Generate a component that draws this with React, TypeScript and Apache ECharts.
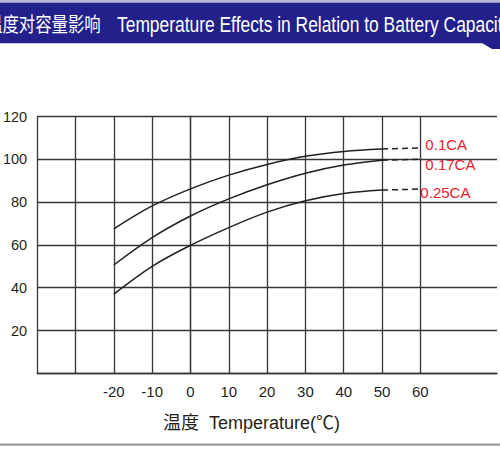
import React, { useEffect, useRef } from "react";
import * as echarts from "echarts";

// Temperature (°C) sample points of the solid curves
const temps = [-20, -10, 0, 10, 20, 30, 40, 50];
// Capacity (%) for each discharge rate
const cap01 = [67.5, 78.2, 86.2, 92.6, 97.6, 101.4, 103.7, 104.8];
const cap017 = [50.6, 63.4, 73.5, 81.5, 88.1, 93.5, 97.3, 99.6];
const cap025 = [37, 50, 59.8, 68.1, 75.3, 80.6, 84, 85.6];
// Dashed extensions 50 -> 60 °C
const extTemps = [50, 60];
const ext01 = [104.8, 105.3];
const ext017 = [99.6, 100];
const ext025 = [85.6, 86.1];
const rateNames = ["0.1CA", "0.17CA", "0.25CA"];
const xLabelValues = [-20, -10, 0, 10, 20, 30, 40, 50, 60];
const yLabelValues = [20, 40, 60, 80, 100, 120];

const titleCn = "温度对容量影响";
const titleEn = "Temperature Effects in Relation to Battery Capacity";
const axisName = "温度  Temperature(℃)";

const FONT = '"Liberation Sans", Arial, "Noto Sans CJK SC", sans-serif';
const INK = "#231f20";
const GRID = "#3b3435";
const RED = "#e8202a";
const BLUE = "#22208a";

const zip = (xs: number[], ys: number[]) => xs.map((x, i) => [x, ys[i]]);

export default function App() {
  const ref = useRef<HTMLDivElement>(null);
  useEffect(() => {
    if (!ref.current) return;
    const chart = echarts.init(ref.current, null, { renderer: "svg" });

    const solid = (data: number[]) => ({
      type: "line",
      data: zip(temps, data),
      smooth: 0.35,
      showSymbol: false,
      symbol: "none",
      silent: true,
      lineStyle: { color: INK, width: 1.5 },
    });
    const dashed = (data: number[], name: string, distance: number, dy: number) => ({
      type: "line",
      data: zip(extTemps, data),
      showSymbol: false,
      symbol: "none",
      silent: true,
      lineStyle: { color: INK, width: 1.5, type: [6, 4] },
      endLabel: {
        show: true,
        formatter: name,
        color: RED,
        fontSize: 15,
        fontFamily: FONT,
        distance,
        offset: [0, dy],
      },
    });

    // 13 ticks from -40 to 80; hide the lines at 70 and 80
    const xLineColors = Array.from({ length: 13 }, (_, i) => (i >= 11 ? "rgba(0,0,0,0)" : GRID));

    chart.setOption({
      animation: false,
      backgroundColor: "#ffffff",
      grid: { left: 36.7, right: 0, top: 116.5, bottom: 76.7, containLabel: false },
      xAxis: {
        type: "value",
        min: -40,
        max: 80,
        interval: 10,
        axisLine: { show: true, lineStyle: { color: GRID, width: 1.3 } },
        axisTick: { show: false },
        splitLine: { show: true, lineStyle: { color: xLineColors, width: 1.3 } },
        axisLabel: {
          show: true,
          margin: 11,
          fontSize: 15,
          color: INK,
          fontFamily: FONT,
          formatter: (v: number) => (xLabelValues.includes(v) ? String(v) : ""),
        },
      },
      yAxis: {
        type: "value",
        min: 0,
        max: 120,
        interval: 20,
        axisLine: { show: true, lineStyle: { color: GRID, width: 1.3 } },
        axisTick: { show: false },
        splitLine: { show: true, lineStyle: { color: GRID, width: 1.3 } },
        axisLabel: {
          show: true,
          margin: 10,
          fontSize: 14.5,
          color: INK,
          fontFamily: FONT,
          padding: [4, 0, 0, 0],
          formatter: (v: number) => (yLabelValues.includes(v) ? String(v) : ""),
        },
      },
      series: [
        solid(cap01),
        solid(cap017),
        solid(cap025),
        dashed(ext01, rateNames[0], 5, -3),
        dashed(ext017, rateNames[1], 5, 5),
        dashed(ext025, rateNames[2], 0, 3),
      ],
      graphic: [
        { type: "rect", shape: { x: 0, y: 0, width: 500, height: 2 }, style: { fill: "#b9b8d6" }, silent: true },
        { type: "rect", shape: { x: 0, y: 2.5, width: 500, height: 40.8 }, style: { fill: BLUE }, silent: true },
        {
          type: "polygon",
          shape: { points: [[482, 43], [500, 43], [500, 49], [492, 49]] },
          style: { fill: BLUE },
          silent: true,
        },
        {
          type: "text",
          x: -14,
          y: 24.5,
          scaleX: 0.82,
          silent: true,
          style: {
            text: titleCn,
            fill: "#ffffff",
            fontSize: 20,
            fontFamily: FONT,
            textAlign: "left",
            textVerticalAlign: "middle",
          },
        },
        {
          type: "text",
          x: 117,
          y: 24.5,
          scaleX: 0.81,
          silent: true,
          style: {
            text: titleEn,
            fill: "#ffffff",
            fontSize: 21.5,
            fontFamily: FONT,
            textAlign: "left",
            textVerticalAlign: "middle",
          },
        },
        {
          type: "text",
          x: 163,
          y: 423,
          silent: true,
          style: {
            text: axisName,
            fill: INK,
            fontSize: 18,
            fontFamily: FONT,
            textAlign: "left",
            textVerticalAlign: "middle",
          },
        },
        { type: "rect", shape: { x: 0, y: 443.5, width: 500, height: 2.2 }, style: { fill: "#9a9a9a" }, silent: true },
      ],
    });
    return () => chart.dispose();
  }, []);
  return <div ref={ref} style={{ position: "fixed", left: 0, top: 0, width: 500, height: 450 }} />;
}
